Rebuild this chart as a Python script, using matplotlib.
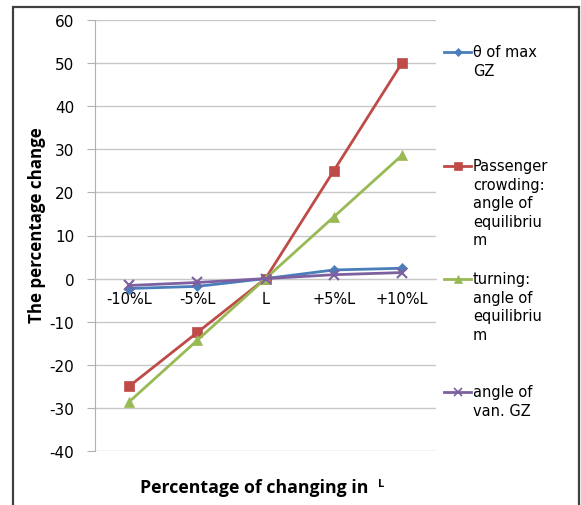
import matplotlib.pyplot as plt
from matplotlib.lines import Line2D
from matplotlib.patches import Rectangle

plt.rcParams['font.family'] = ['DejaVu Sans']
plt.rcParams['axes.unicode_minus'] = False

categories = ["-10%L", "-5%L", "L", "+5%L", "+10%L"]
theta_max_gz = [-2.3, -1.8, 0.0, 2.0, 2.4]
passenger_eq = [-25.0, -12.5, 0.0, 25.0, 50.0]
turning_eq = [-28.6, -14.3, 0.0, 14.3, 28.6]
vanish_gz = [-1.6, -0.9, 0.0, 0.9, 1.4]

series_labels = [
    "θ of max\nGZ",
    "Passenger\ncrowding:\nangle of\nequilibriu\nm",
    "turning:\nangle of\nequilibriu\nm",
    "angle of\nvan. GZ",
]
series_colors = ["#4a7ebb", "#be4b48", "#98b954", "#7d60a0"]
series_markers = ["D", "s", "^", "x"]
series_sizes = [5, 7, 7, 7]

W, H = 581, 506
fig = plt.figure(figsize=(W / 100, H / 100), dpi=100)

# outer chart frame
fig.patches.append(Rectangle((13 / W, -0.1), (579 - 13) / W, 1.1 - 8 / H,
                             transform=fig.transFigure, fill=False,
                             edgecolor="#404040", linewidth=1.6))

ax = fig.add_axes([95 / W, 1 - 452 / H, (436 - 95) / W, (452 - 21) / H])

x = list(range(len(categories)))
all_series = [theta_max_gz, passenger_eq, turning_eq, vanish_gz]
for vals, c, m, s in zip(all_series, series_colors, series_markers, series_sizes):
    ax.plot(x, vals, color=c, marker=m, markersize=s, linewidth=2,
            markeredgewidth=1.5 if m == "x" else 0.5, markeredgecolor=c, zorder=3)

ax.set_xlim(-0.5, 4.5)
ax.set_ylim(-40, 60)
ax.set_yticks(range(-40, 61, 10))
ax.set_xticks(x)
ax.set_xticklabels(categories)
ax.grid(axis="y", color="#c8c8c8", linewidth=1)
ax.set_axisbelow(True)

for sp in ["top", "right"]:
    ax.spines[sp].set_visible(False)
ax.spines["left"].set_color("#b0b0b0")
ax.spines["bottom"].set_position(("data", 0))
ax.spines["bottom"].set_color("#c8c8c8")
ax.tick_params(axis="x", length=0, pad=9, labelsize=10.5, colors="#000000")
ax.tick_params(axis="y", length=6, color="#b0b0b0", labelsize=11, pad=9)

fig.text(37 / W, 1 - 225 / H, "The percentage change", rotation=90,
         ha="center", va="center", fontsize=12.2, fontweight="bold",
         family="Open Sans")
fig.text(254 / W, 1 - 488 / H, "Percentage of changing in", ha="center",
         va="center", fontsize=12.8, fontweight="bold", family="Open Sans")
fig.text(381 / W, 1 - 485 / H, "L", ha="center", va="center",
         fontsize=8, fontweight="bold", family="Open Sans")

# legend entries
first_line_y = [53, 167, 280, 393]
for lab, c, m, s, yy in zip(series_labels, series_colors, series_markers,
                            series_sizes, first_line_y):
    yf = 1 - yy / H
    fig.add_artist(Line2D([444 / W, 471 / W], [yf, yf], color=c, linewidth=2,
                          transform=fig.transFigure))
    fig.add_artist(Line2D([457.5 / W], [yf], color=c, marker=m,
                          markersize=s - 1, markeredgecolor=c,
                          markeredgewidth=1.2 if m == "x" else 0.5,
                          linestyle="none", transform=fig.transFigure))
    fig.text(473 / W, yf + 8 / H, lab, ha="left", va="top", fontsize=10.5,
             linespacing=1.3)

fig.savefig("out.png", dpi=100)
